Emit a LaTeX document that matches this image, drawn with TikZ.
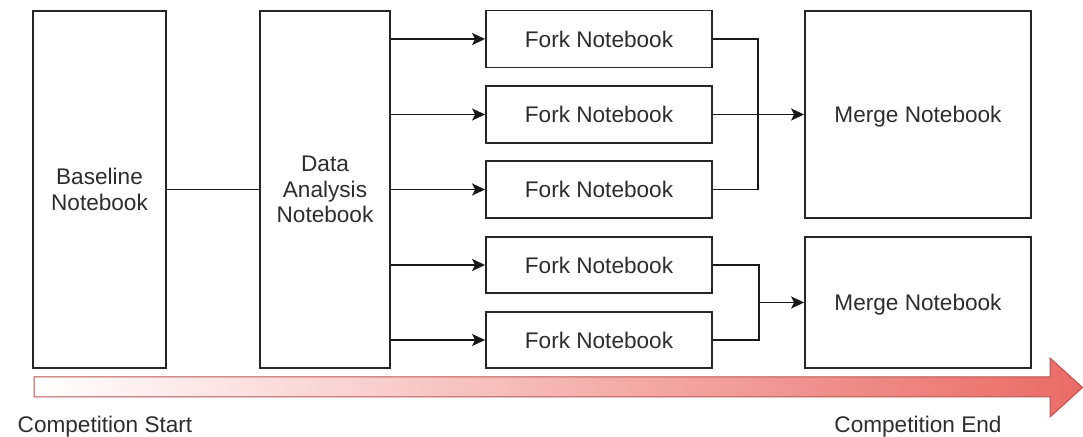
\documentclass[tikz,border=0pt]{standalone}
\usepackage{fontspec}
\setmainfont{Liberation Sans}
\usetikzlibrary{arrows.meta}
\definecolor{arrowred}{RGB}{234,107,102}
\definecolor{arrowline}{RGB}{184,84,80}
\definecolor{textgray}{RGB}{45,45,45}
\tikzset{
  nb/.style={draw=black!85, line width=0.9pt, fill=white, align=center,
    text=textgray, font=\fontsize{11.3}{12.7}\selectfont, inner sep=0pt},
  lbl/.style={text=textgray, font=\fontsize{11.3}{12.7}\selectfont, inner sep=0pt},
  link/.style={line width=0.85pt, draw=black!90},
  flow/.style={link, -{Stealth[length=6.5pt,width=6pt,inset=1.5pt]}}
}
\begin{document}
\begin{tikzpicture}[x=0.5pt,y=-0.5pt]
  \useasboundingbox (0,0) rectangle (1083,437);
%notebooks
  \node[nb, minimum width=66.5pt, minimum height=178.5pt] (base) at (99.5,189.5) {Baseline\\Notebook};
  \node[nb, minimum width=65pt, minimum height=178.5pt] (da) at (325,189.5) {Data\\Analysis\\Notebook};
  \node[nb, minimum width=113pt, minimum height=28.5pt] (fork1) at (599,39) {Fork Notebook};
  \node[nb, minimum width=113pt, minimum height=28.5pt] (fork2) at (599,114.5) {Fork Notebook};
  \node[nb, minimum width=113pt, minimum height=28.5pt] (fork3) at (599,189.5) {Fork Notebook};
  \node[nb, minimum width=113pt, minimum height=28pt] (fork4) at (599,265) {Fork Notebook};
  \node[nb, minimum width=113pt, minimum height=28pt] (fork5) at (599,340) {Fork Notebook};
  \node[nb, text depth=0pt, minimum width=113pt, minimum height=103.5pt] (merge1) at (918,114.5) {Merge Notebook};
  \node[nb, text depth=0pt, minimum width=113pt, minimum height=65.5pt] (merge2) at (918,302.5) {Merge Notebook};
%forking
  \draw[link] (base.east) -- (da.west);
  \draw[flow] (da.east |- fork1.west) -- (fork1.west);
  \draw[flow] (da.east |- fork2.west) -- (fork2.west);
  \draw[flow] (da.east |- fork3.west) -- (fork3.west);
  \draw[flow] (da.east |- fork4.west) -- (fork4.west);
  \draw[flow] (da.east |- fork5.west) -- (fork5.west);
%merging
  \coordinate (j1) at (758,114.5);
  \coordinate (j2) at (759,302.5);
  \draw[link] (fork1.east) -| (j1) |- (fork3.east);
  \draw[flow] (fork2.east) -- (merge1.west);
  \draw[link] (fork4.east) -| (j2) |- (fork5.east);
  \draw[flow] (j2) -- (merge2.west);
%timeline
  \path[draw=arrowline, line width=0.5pt, left color=white, right color=arrowred]
    (34,377) -- (1050,377) -- (1050,358) -- (1082.5,387.5) -- (1050,417)
    -- (1050,397) -- (34,397) -- cycle;
  \node[lbl, anchor=base] (start) at (105,433) {Competition Start};
  \node[lbl, anchor=base] (end) at (918,433) {Competition End};
\end{tikzpicture}
\end{document}
